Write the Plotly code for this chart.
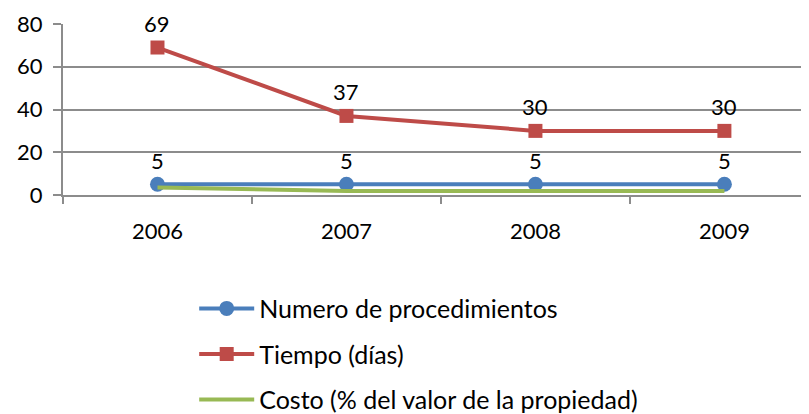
import plotly.graph_objects as go

years = ["2006", "2007", "2008", "2009"]
procedimientos = [5, 5, 5, 5]
tiempo = [69, 37, 30, 30]
costo = [3.5, 1.9, 1.9, 1.9]
y_ticks = [0, 20, 40, 60, 80]

FONT = "Lato, 'Open Sans', sans-serif"
GRID = "#8c8c8c"

fig = go.Figure()
fig.add_trace(go.Scatter(
    x=years, y=procedimientos, name="Numero de procedimientos",
    mode="lines+markers", legendgroup="a",
    line=dict(color="#4A7EBB", width=4),
    marker=dict(symbol="circle", size=15, color="#4A7EBB"),
))
fig.add_trace(go.Scatter(
    x=years, y=tiempo, name="Tiempo (días)",
    mode="lines+markers", legendgroup="b",
    line=dict(color="#BE4B48", width=4),
    marker=dict(symbol="square", size=14, color="#BE4B48"),
))
fig.add_trace(go.Scatter(
    x=years, y=costo, name="Costo (% del valor de la propiedad)",
    mode="lines", legendgroup="c",
    line=dict(color="#98B954", width=4),
))

for ys in (procedimientos, tiempo):
    for i, yv in enumerate(ys):
        fig.add_annotation(x=i, y=yv, xref="x", yref="y", text=str(yv),
                           showarrow=False, yshift=24,
                           font=dict(family=FONT, size=22, color="#000"))

# the page body adds an 8px offset; margins compensate for it
fig.update_layout(
    width=809, height=414,
    margin=dict(l=55, r=0, t=16, b=227, autoexpand=False),
    paper_bgcolor="white", plot_bgcolor="white",
    font=dict(family=FONT, size=22, color="#000"),
    showlegend=True,
    legend=dict(
        orientation="v", x=0.174, y=-0.53, xanchor="left", yanchor="top",
        font=dict(family=FONT, size=25, color="#000"),
        tracegroupgap=10, itemwidth=55, bgcolor="rgba(0,0,0,0)",
    ),
)
fig.update_xaxes(
    type="category", range=[-0.5, 3.49],
    showline=True, linecolor=GRID, linewidth=2,
    ticks="outside", tickson="boundaries", ticklen=7, tickwidth=2, tickcolor=GRID,
    showgrid=False, ticklabelstandoff=16,
    tickfont=dict(family=FONT, size=22),
)
fig.update_yaxes(
    range=[0, 80], tickvals=y_ticks,
    showline=True, linecolor=GRID, linewidth=2,
    showgrid=True, gridcolor=GRID, gridwidth=2,
    ticks="outside", ticklen=8, tickwidth=2, tickcolor=GRID,
    tickfont=dict(family=FONT, size=22), ticklabelstandoff=6,
    zeroline=False,
)
fig.write_html("out.html")
